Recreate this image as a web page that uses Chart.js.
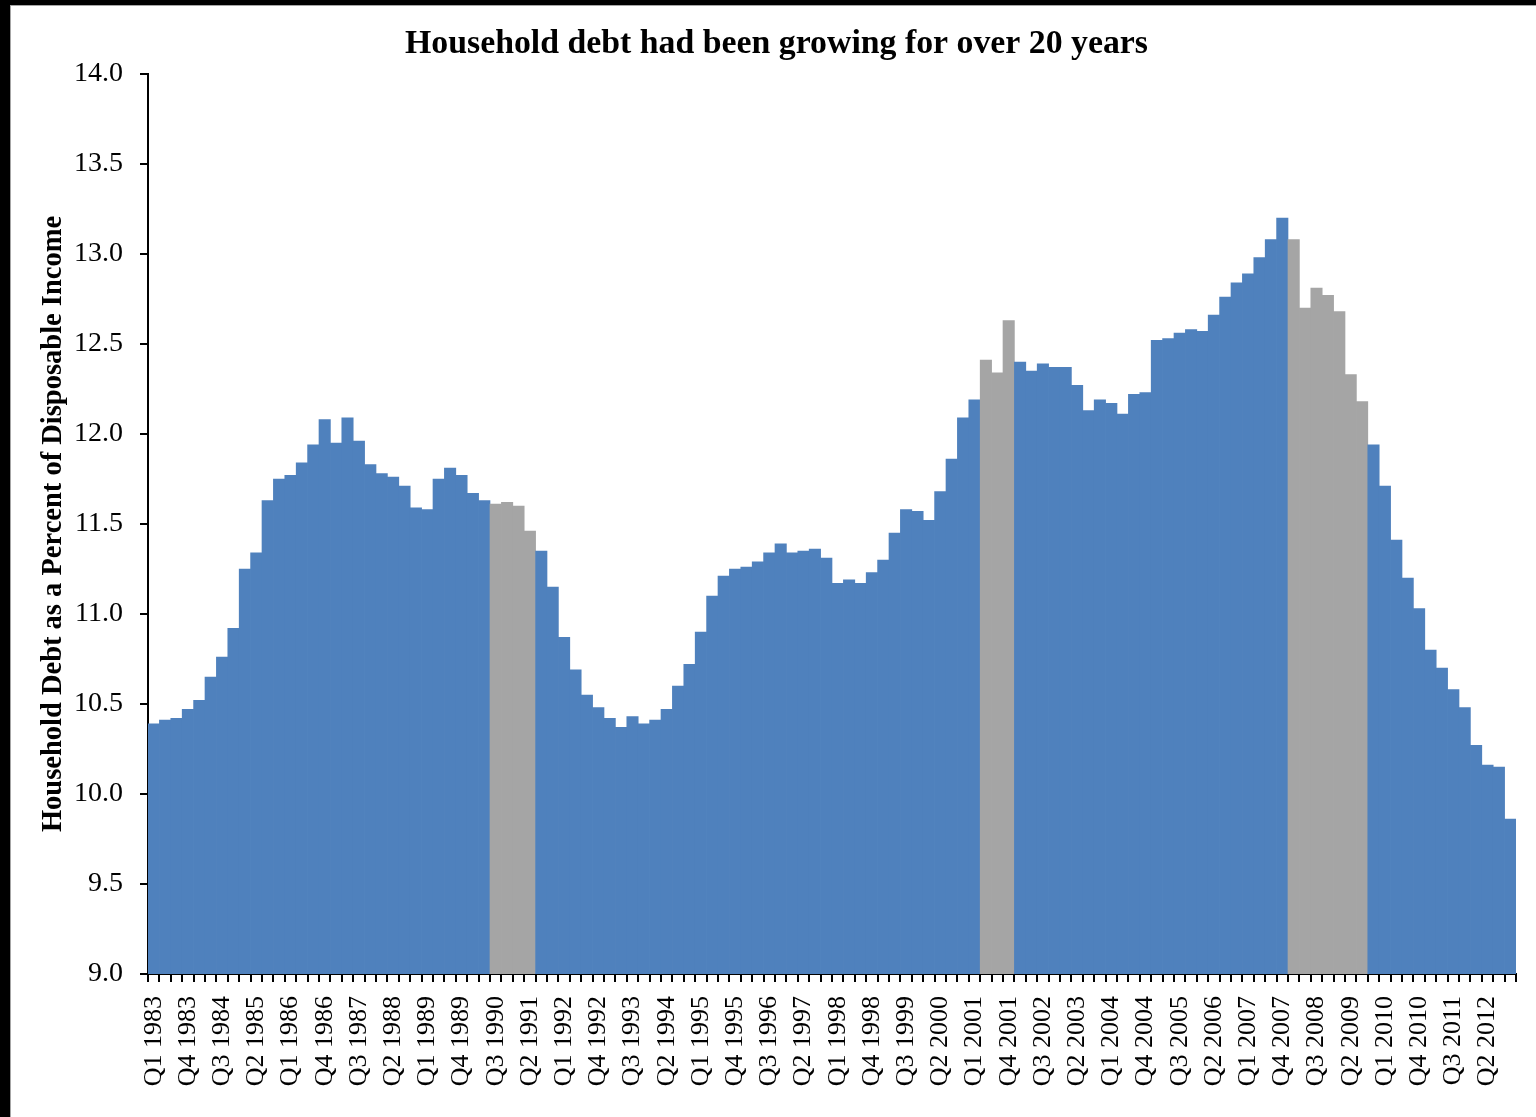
<!DOCTYPE html>
<html>
<head>
<meta charset="utf-8">
<script src="https://cdn.jsdelivr.net/npm/chart.js@4"></script>
<style>
  html, body { margin: 0; padding: 0; background: #fff; }
  #wrap { position: relative; width: 1536px; height: 1117px; overflow: hidden; }
  canvas { position: absolute; left: 0; top: 0; }
  .frame-top { position: absolute; left: 0; top: 0; width: 1536px; height: 5px; background: #000; }
  .frame-left { position: absolute; left: 0; top: 0; width: 10px; height: 1117px; background: #000; }
  .edge-top { position: absolute; left: 10px; top: 5px; width: 1526px; height: 1px; background: #a6a6a6; }
  .edge-left { position: absolute; left: 10px; top: 5px; width: 1px; height: 1112px; background: #a6a6a6; }
</style>
</head>
<body>
<div id="wrap">
  <canvas id="chart" width="1536" height="1117"></canvas>
  <div class="frame-top"></div>
  <div class="frame-left"></div>
  <div class="edge-top"></div>
  <div class="edge-left"></div>
</div>
<script>
// Quarterly categories, Q1 1983 through Q4 2012
const firstYear = 1983;
const lastYear = 2012;
const quarterNames = ['Q1', 'Q2', 'Q3', 'Q4'];

// Household debt as a percent of disposable income, one value per quarter
const debtRatio = [
  10.39, 10.41, 10.42, 10.47, 10.52, 10.65, 10.76, 10.92, 11.25, 11.34,
  11.63, 11.75, 11.77, 11.84, 11.94, 12.08, 11.95, 12.09, 11.96, 11.83,
  11.78, 11.76, 11.71, 11.59, 11.58, 11.75, 11.81, 11.77, 11.67, 11.63,
  11.61, 11.62, 11.60, 11.46, 11.35, 11.15, 10.87, 10.69, 10.55, 10.48,
  10.42, 10.37, 10.43, 10.39, 10.41, 10.47, 10.60, 10.72, 10.90, 11.10,
  11.21, 11.25, 11.26, 11.29, 11.34, 11.39, 11.34, 11.35, 11.36, 11.31,
  11.17, 11.19, 11.17, 11.23, 11.30, 11.45, 11.58, 11.57, 11.52, 11.68,
  11.86, 12.09, 12.19, 12.41, 12.34, 12.63, 12.40, 12.35, 12.39, 12.37,
  12.37, 12.27, 12.13, 12.19, 12.17, 12.11, 12.22, 12.23, 12.52, 12.53,
  12.56, 12.58, 12.57, 12.66, 12.76, 12.84, 12.89, 12.98, 13.08, 13.20,
  13.08, 12.70, 12.81, 12.77, 12.68, 12.33, 12.18, 11.94, 11.71, 11.41,
  11.20, 11.03, 10.80, 10.70, 10.58, 10.48, 10.27, 10.16, 10.15, 9.86
];

// Quarters shaded as recessions
const recessionQuarters = [
  'Q3 1990', 'Q4 1990', 'Q1 1991', 'Q2 1991',
  'Q2 2001', 'Q3 2001', 'Q4 2001',
  'Q1 2008', 'Q2 2008', 'Q3 2008', 'Q4 2008', 'Q1 2009', 'Q2 2009', 'Q3 2009'
];

// Y-axis tick values
const yTicks = [9.0, 9.5, 10.0, 10.5, 11.0, 11.5, 12.0, 12.5, 13.0, 13.5, 14.0];

const quarterLabels = [];
for (let y = firstYear; y <= lastYear; y++) {
  for (const q of quarterNames) quarterLabels.push(q + ' ' + y);
}

const BLUE = '#4F81BD';
const GREY = '#A5A5A5';
const barColors = quarterLabels.map(l => recessionQuarters.includes(l) ? GREY : BLUE);

const SERIF = '"Liberation Serif", "Times New Roman", serif';

new Chart(document.getElementById('chart'), {
  type: 'bar',
  data: {
    labels: quarterLabels,
    datasets: [{
      data: debtRatio,
      backgroundColor: barColors,
      borderWidth: 0,
      barPercentage: 1.0,
      categoryPercentage: 1.0
    }]
  },
  options: {
    responsive: false,
    animation: false,
    devicePixelRatio: 1,
    layout: { padding: { top: 0, right: 20, bottom: 0, left: 37 } },
    plugins: {
      legend: { display: false },
      tooltip: { enabled: false },
      title: {
        display: true,
        text: 'Household debt had been growing for over 20 years',
        color: '#000',
        font: { family: SERIF, size: 33.8, weight: 'bold' },
        padding: { top: 24, bottom: 9.44 }
      }
    },
    scales: {
      x: {
        afterFit: s => { s.height = 143; s.paddingLeft = 0; s.paddingRight = 0; },
        border: { color: '#000', width: 2 },
        grid: { display: true, drawOnChartArea: false, drawTicks: true, tickLength: 8, color: '#000', lineWidth: 2, offset: true },
        ticks: {
          autoSkip: false,
          maxRotation: 90,
          minRotation: 90,
          padding: 14,
          color: '#000',
          font: { family: SERIF, size: 26 },
          callback: (v, i) => (i % 3 === 0 ? quarterLabels[i] : '')
        }
      },
      y: {
        min: yTicks[0],
        max: yTicks[yTicks.length - 1],
        afterFit: s => { s.width = 111; },
        afterBuildTicks: s => { s.ticks = yTicks.map(v => ({ value: v })); },
        border: { color: '#000', width: 2 },
        grid: { display: true, drawOnChartArea: false, drawTicks: true, tickLength: 8, color: '#000', lineWidth: 2 },
        ticks: {
          color: '#000',
          padding: 17,
          font: { family: SERIF, size: 28 },
          callback: v => Number(v).toFixed(1)
        },
        title: {
          display: true,
          text: 'Household Debt as a Percent of Disposable Income',
          color: '#000',
          padding: 0,
          font: { family: SERIF, size: 28.5, weight: 'bold' }
        }
      }
    }
  }
});
</script>
</body>
</html>
